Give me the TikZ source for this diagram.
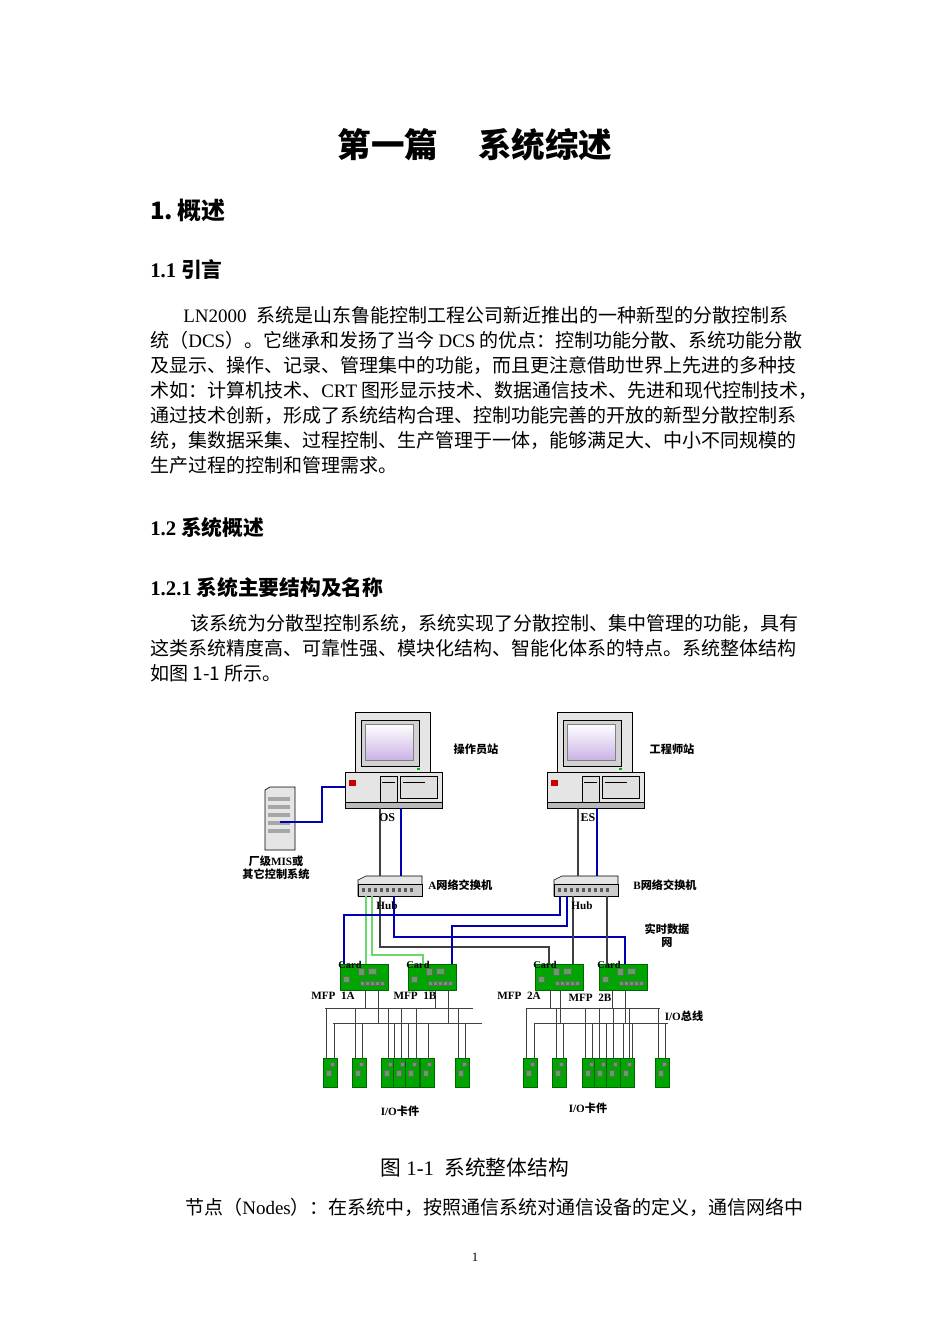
\documentclass[tikz,border=0pt]{standalone}
\usepackage{fontspec}
\setmainfont{Noto Sans CJK SC}
\newfontfamily\lat{Liberation Serif}
\newcommand\La[1]{{\lat #1}}
\begin{document}
\begin{tikzpicture}[x=0.6263pt,y=-0.6263pt,
 tl/.style={anchor=west,inner sep=0,font=\fontsize{11.9}{13}\selectfont},
 dl/.style={inner sep=0,font=\fontsize{7}{8}\selectfont\bfseries},
 bl/.style={draw=blue!70!black,line width=0.8pt},
 kl/.style={draw=black!75,line width=0.8pt},
 gl/.style={draw=green!75!black!60!white,line width=0.8pt},
 card/.style={draw=green!40!black,fill=green!65!black,line width=0.4pt},
 chip/.style={draw=black!60,fill=green!30!gray,line width=0.3pt}]
\useasboundingbox (0,0) rectangle (950,1344);
\fill[white] (0,0) rectangle (950,1344);
% text
\node[inner sep=0,font=\fontsize{21}{24}\selectfont\bfseries] (title) at (475,145) {第一篇\hspace{1.2em}系统综述};
\node[tl,font=\fontsize{15}{17}\selectfont\bfseries] (h1) at (150,210) {1.\,概述};
\node[tl,font=\fontsize{13}{15}\selectfont\bfseries] (h11) at (150,270) {\La{1.1} 引言};
\node[tl] (p1) at (183,315) {\La{LN2000}\; 系统是山东鲁能控制工程公司新近推出的一种新型的分散控制系};
\node[tl] (p2) at (150,340) {统（\La{DCS}）。它继承和发扬了当今 \La{DCS} 的优点：控制功能分散、系统功能分散};
\node[tl] (p3) at (150,365) {及显示、操作、记录、管理集中的功能，而且更注意借助世界上先进的多种技};
\node[tl] (p4) at (150,390) {术如：计算机技术、\La{CRT} 图形显示技术、数据通信技术、先进和现代控制技术，};
\node[tl] (p5) at (150,415) {通过技术创新，形成了系统结构合理、控制功能完善的开放的新型分散控制系};
\node[tl] (p6) at (150,440) {统，集数据采集、过程控制、生产管理于一体，能够满足大、中小不同规模的};
\node[tl] (p7) at (150,465) {生产过程的控制和管理需求。};
\node[tl,font=\fontsize{13}{15}\selectfont\bfseries] (h12) at (150,528) {\La{1.2} 系统概述};
\node[tl,font=\fontsize{13}{15}\selectfont\bfseries] (h121) at (150,588) {\La{1.2.1} 系统主要结构及名称};
\node[tl] (q1) at (190,623) {该系统为分散型控制系统，系统实现了分散控制、集中管理的功能，具有};
\node[tl] (q2) at (150,648) {这类系统精度高、可靠性强、模块化结构、智能化体系的特点。系统整体结构};
\node[tl] (q3) at (150,673) {如图 1-1 所示。};
\node[inner sep=0,font=\fontsize{13}{15}\selectfont] (cap) at (475,1168) {图 \La{1-1}\; 系统整体结构};
\node[tl] (r1) at (185,1207) {节点（\La{Nodes}）：在系统中，按照通信系统对通信设备的定义，通信网络中};
\node[inner sep=0,font=\fontsize{8}{9}\selectfont] (pg) at (475,1257) {\La{1}};
% computers
\foreach \ox/\nm in {355/os,557/es}{
\begin{scope}[shift={(\ox,712)}]
 \draw[fill=gray!20,line width=0.5pt] (0,0) rectangle (75,60);
 \draw[fill=gray!35,line width=0.4pt] (6,8) rectangle (64,54);
 \shade[top color=white,bottom color=blue!35!violet!30,draw=gray] (10,12) rectangle (58,48);
 \fill[green!70!black] (62,56) rectangle (65,58);
 \draw[fill=gray!20,line width=0.5pt] (-10,60) rectangle (87,96);
 \draw[fill=gray!55] (-10,90) rectangle (87,96);
 \fill[red!80!black] (-6,68) rectangle (1,74);
 \draw[fill=gray!25,line width=0.3pt] (25,64) rectangle (42,90);
 \draw[fill=gray!25,line width=0.3pt] (45,64) rectangle (82,86);
 \draw[line width=0.3pt] (48,70) -- (70,70) (27,70)--(40,70);
\end{scope}}
% server
\draw[fill=gray!20] (265,790) -- (270,787) -- (295,787) -- (295,850) -- (265,850) -- cycle;
\foreach \yy in {797,805,813,821,829}{\fill[gray!70] (268,\yy) rectangle (290,\yy+4);}
\node[inner sep=0] (srv) at (280,822) {};
% hubs
\foreach \hx in {358,554}{
 \draw[fill=gray!20] (\hx,880) -- (\hx+8,876) -- (\hx+64,876) -- (\hx+64,890) -- (\hx,896) -- cycle;
 \draw[fill=gray!40] (\hx,884) rectangle (\hx+64,896);
 \foreach \i in {0,...,8}{\fill[gray!70!black] (\hx+4+\i*6,888) rectangle (\hx+7+\i*6,892);}}
% MFP cards
\foreach \cx/\nm in {340/a,408/b,535/c,599/d}{
 \draw[card] (\cx,964) rectangle (\cx+48,990);
 \draw[chip] (\cx+18,968) rectangle (\cx+24,975);
 \draw[chip] (\cx+3,976) rectangle (\cx+9,982);
 \draw[chip] (\cx+28,968) rectangle (\cx+36,974);
 \foreach \i in {0,...,4}{\draw[chip] (\cx+20+\i*5,981) rectangle (\cx+24+\i*5,985);}
 \node[inner sep=0,font=\fontsize{6.5}{7}\selectfont\bfseries\lat] at (\cx+10,965) {Card};}
% IO cards
\foreach \ix in {323,352,381,393,405,420,455,523,552,582,594,606,620,655}{
 \draw[card] (\ix,1058) rectangle (\ix+14,1087);
 \draw[chip] (\ix+7,1062) rectangle (\ix+11,1066);
 \draw[chip] (\ix+3,1070) rectangle (\ix+8,1076);}
% connections top
\draw[kl] (380,808) -- (380,876);
\draw[bl] (401,808) -- (401,876);
\draw[kl] (578,808) -- (578,876);
\draw[bl] (597,808) -- (597,876);
\draw[bl] (280,822) -- (322,822) -- (322,787) -- (345,787);
% hub to cards
\draw[gl] (366,896) -- (366,964);
\draw[gl] (372,896) -- (372,955) -- (423,955) -- (423,964);
\draw[kl] (380,896) -- (380,947) -- (549,947) -- (549,964);
\draw[bl] (394,896) -- (394,937) -- (625,937) -- (625,964);
\draw[bl] (560,896) -- (560,915) -- (344,915) -- (344,964);
\draw[bl] (567,896) -- (567,926) -- (452,926) -- (452,964);
\draw[kl] (573,896) -- (573,964);
\draw[kl] (607,896) -- (607,964);
% buses
\draw[kl,line width=0.6pt] (325,1008) -- (473,1008) (333,1023) -- (482,1023);
\draw[kl,line width=0.6pt] (527,1008) -- (660,1008) (535,1023) -- (668,1023);
\draw[kl,line width=0.6pt] (365,990)--(365,1008) (378,990)--(378,1023) (435,990)--(435,1008) (448,990)--(448,1023);
\draw[kl,line width=0.6pt] (550,990)--(550,1008) (560,990)--(560,1023) (612,990)--(612,1008) (625,990)--(625,1023);
\foreach \ix/\yy in {326/1008,334/1023,355/1008,362/1023,388/1008,394/1023,401/1008,408/1023,416/1008,428/1023,458/1008,465/1023,
 526/1008,534/1023,556/1008,563/1023,585/1008,592/1023,599/1008,606/1023,613/1008,623/1023,629/1008,632/1023,658/1008,665/1023}
 \draw[kl,line width=0.6pt] (\ix,\yy) -- (\ix,1058);
% labels
\node[dl] at (476,749) {操作员站};
\node[dl] at (672,749) {工程师站};
\node[dl,font=\fontsize{7.5}{8}\selectfont\bfseries\lat] at (387,818) {OS};
\node[dl,font=\fontsize{7.5}{8}\selectfont\bfseries\lat] at (588,818) {ES};
\node[dl,align=center] at (276,868) {厂级\La{MIS}或\\其它控制系统};
\node[dl,anchor=west] at (428,885) {\La{A}网络交换机};
\node[dl,anchor=west] at (633,885) {\La{B}网络交换机};
\node[dl,font=\fontsize{7}{8}\selectfont\bfseries\lat] at (387,906) {Hub};
\node[dl,font=\fontsize{7}{8}\selectfont\bfseries\lat] at (582,906) {Hub};
\node[dl,align=center] at (667,936) {实时数据\\网};
\foreach \lx/\ly/\t in {333/996/MFP\ \ 1A,415/996/MFP\ \ 1B,519/996/MFP\ \ 2A,590/998/MFP\ \ 2B}
 \node[dl,font=\fontsize{7}{8}\selectfont\bfseries\lat] at (\lx,\ly) {\t};
\node[dl] at (684,1016) {\La{I/O}总线};
\node[dl] at (400,1111) {\La{I/O}卡件};
\node[dl] at (588,1108) {\La{I/O}卡件};
\end{tikzpicture}
\end{document}
